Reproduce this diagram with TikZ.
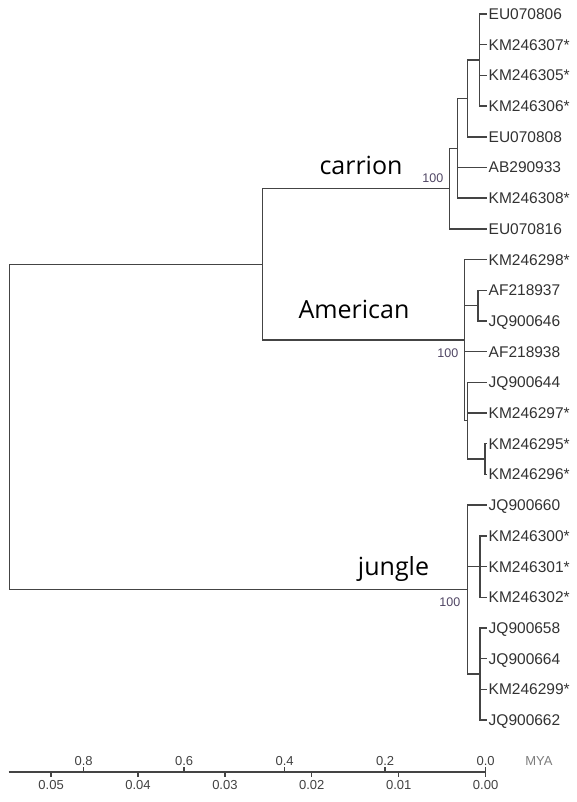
\documentclass[tikz,border=0pt]{standalone}
\usepackage{fontspec}
\setmainfont{Liberation Sans}
\newfontfamily\cladefont{Open Sans}
\definecolor{treeline}{RGB}{68,68,68}
\definecolor{leaftext}{RGB}{50,50,50}
\definecolor{bootcol}{RGB}{80,70,100}
\definecolor{axistext}{RGB}{65,65,65}
\definecolor{myacol}{RGB}{125,125,125}
\begin{document}
\begin{tikzpicture}[x=1pt,y=-1pt,
  branch/.style={draw=treeline,line width=1.45pt,line cap=butt},
  tipbranch/.style={branch,shorten >=2pt},
  leaf/.style={anchor=west,inner sep=0pt,text height=11pt,text depth=0pt,
    font=\fontsize{15.5}{15.5}\selectfont,text=leaftext},
  boot/.style={anchor=east,inner sep=0pt,font=\fontsize{12.5}{12.5}\selectfont,text=bootcol},
  clade/.style={anchor=base,inner sep=0pt,font=\cladefont\fontsize{25}{25}\selectfont,text=black},
  axlab/.style={inner sep=0pt,font=\fontsize{13}{13}\selectfont,text=axistext}]
\useasboundingbox (0,0) rectangle (576,802);
% leaves
\foreach \i/\lab in {0/EU070806,1/KM246307*,2/KM246305*,3/KM246306*,4/EU070808,
  5/AB290933,6/KM246308*,7/EU070816,8/KM246298*,9/AF218937,10/JQ900646,11/AF218938,
  12/JQ900644,13/KM246297*,14/KM246295*,15/KM246296*,16/JQ900660,17/KM246300*,
  18/KM246301*,19/KM246302*,20/JQ900658,21/JQ900664,22/KM246299*,23/JQ900662}
  \node[leaf] (l\i) at (488.5,{14+30.696*\i}) {\lab};
% internal nodes
\coordinate (A) at (479.5,60.05);
\coordinate (B) at (467.7,98.4);
\coordinate (C) at (457.3,148.3);
\coordinate (D) at (449.3,188.6);
\coordinate (F) at (478,305.65);
\coordinate (H) at (485,459.05);
\coordinate (G) at (467.5,420.7);
\coordinate (E) at (464.5,340.15);
\coordinate (P) at (262.5,264.4);
\coordinate (K) at (480,566.5);
\coordinate (L) at (480,673.95);
\coordinate (J) at (467.3,589.5);
\coordinate (R) at (9.5,427);
% carrion
\foreach \c in {0,1,2,3} \draw[tipbranch] (A) |- (l\c.west);
\draw[branch] (B) |- (A);
\draw[tipbranch] (B) |- (l4.west);
\draw[branch] (C) |- (B);
\draw[tipbranch] (C) |- (l5.west);
\draw[tipbranch] (C) |- (l6.west);
\draw[branch] (D) |- (C);
\draw[tipbranch] (D) |- (l7.west);
% American
\draw[tipbranch] (E) |- (l8.west);
\draw[branch] (E) |- (F);
\draw[tipbranch] (F) |- (l9.west);
\draw[tipbranch] (F) |- (l10.west);
\draw[tipbranch] (E) |- (l11.west);
\draw[branch] (E) |- (G);
\draw[tipbranch] (G) |- (l12.west);
\draw[tipbranch] (G) |- (l13.west);
\draw[branch] (G) |- (H);
\draw[tipbranch] (H) |- (l14.west);
\draw[tipbranch] (H) |- (l15.west);
% jungle
\draw[tipbranch] (J) |- (l16.west);
\draw[branch] (J) |- (K);
\draw[tipbranch] (K) |- (l17.west);
\draw[tipbranch] (K) |- (l18.west);
\draw[tipbranch] (K) |- (l19.west);
\draw[branch] (J) |- (L);
\foreach \c in {20,21,22,23} \draw[tipbranch] (L) |- (l\c.west);
% deep
\draw[branch] (P) |- (D);
\draw[branch] (P) |- (E);
\draw[branch] (R) |- (P);
\draw[branch] (R) |- (J);
% bootstrap
\node[boot] (b1) at (443.5,178.5) {100};
\node[boot] (b2) at (458.5,353.5) {100};
\node[boot] (b3) at (460.5,602) {100};
% clade names
\node[clade] (n1) at (361,175) {carrion};
\node[clade] (n2) at (354,318) {American};
\node[clade] (n3) at (393.5,575) {jungle};
% axis
\coordinate (ax0) at (8.5,772);
\coordinate (ax1) at (485.6,772);
\draw[branch,line width=1.3pt] (ax0) -- (ax1);
\foreach \v/\t in {0/0.0,1/0.2,2/0.4,3/0.6,4/0.8} {
  \draw[branch,line width=1.3pt] ({485.6-100.5*\v},772) -- ++(0,-5.5);
  \node[axlab] at ({485.6-100.5*\v},761.5) {\t};
}
\foreach \v/\t in {0/0.00,1/0.01,2/0.02,3/0.03,4/0.04,5/0.05} {
  \draw[branch,line width=1.3pt] ({485.6-86.9*\v},772) -- ++(0,4.5);
  \node[axlab] at ({485.6-86.9*\v},785.5) {\t};
}
\node[axlab,text=myacol] (mya) at (539,761.5) {MYA};
\end{tikzpicture}
\end{document}
